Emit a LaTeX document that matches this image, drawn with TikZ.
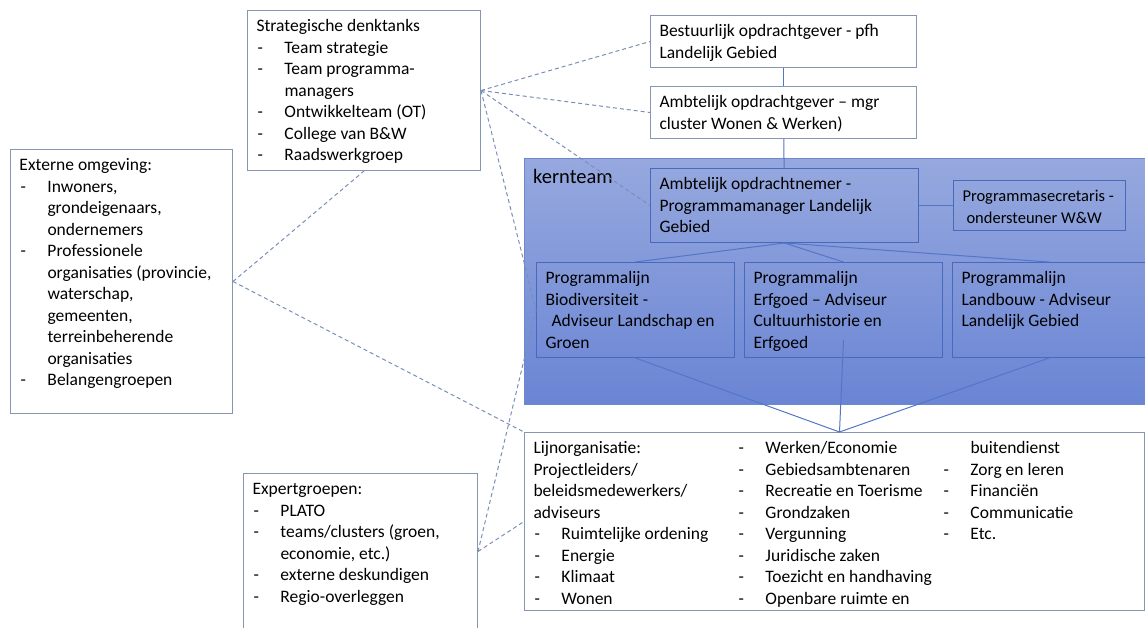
\documentclass[tikz,border=0pt]{standalone}
\usepackage{fontspec}
\setmainfont{Carlito}
\usetikzlibrary{positioning}

\definecolor{boxline}{RGB}{132,150,178}
\definecolor{coreline}{RGB}{72,106,190}
\definecolor{linkblue}{RGB}{84,118,200}
\definecolor{dashblue}{RGB}{122,142,184}
\definecolor{kerntop}{RGB}{150,168,222}
\definecolor{kernbottom}{RGB}{106,133,212}

\tikzstyle{plainbox}=[rectangle,draw=boxline,fill=white,line width=1pt,
anchor=north west,inner xsep=0pt,inner ysep=6pt]
\tikzstyle{linebox}=[rectangle,draw=coreline,line width=1pt,
anchor=north west,inner xsep=0pt,inner ysep=6pt]
\tikzstyle{kernframe}=[rectangle,draw=coreline!80,line width=1pt,anchor=north west,
top color=kerntop,bottom color=kernbottom,inner sep=0pt]
\tikzstyle{solidlink}=[draw=linkblue,line width=1pt]
\tikzstyle{dashlink}=[draw=dashblue,line width=1pt,dash pattern=on 4pt off 3pt]

\newcommand{\boxtext}[3]{\begin{minipage}[t][\dimexpr#2pt-12pt\relax][t]{#1pt}%
\raggedright\leftskip=9pt\relax\strut#3\end{minipage}}
\newcommand{\itm}[1]{\makebox[28pt][l]{\hspace{1pt}-}#1}
\newcommand{\cnt}[1]{\hspace*{28pt}#1}

\begin{document}
\begin{tikzpicture}[x=1pt,y=1pt,node distance=9pt,font=\fontsize{17.5}{21.5}\selectfont]
            \useasboundingbox (0,0) rectangle (1145,-627);

            % KERNTEAM PART

            \node[kernframe,minimum width=621pt,minimum height=246pt] (kern) at (524,-158) {};
            \node[anchor=base west,inner sep=0pt,font=\fontsize{20.5}{24}\selectfont] (kernlabel) at (533,-183) {kernteam};

            \node[linebox] (nemer) at (650,-168) {\boxtext{268}{74}{Ambtelijk opdrachtnemer -\\Programmamanager Landelijk\\Gebied}};
            \node[linebox,right=34pt of nemer,font=\fontsize{16.5}{21.5}\selectfont] (secr) {\boxtext{172}{50}{Programmasecretaris -\\\hspace*{4pt}ondersteuner W\&W}};

            \node[linebox] (bio) at (536,-262) {\boxtext{198}{95}{Programmalijn\\Biodiversiteit -\\\hspace*{6pt}Adviseur Landschap en\\Groen}};
            \node[linebox,right=of bio] (erf) {\boxtext{198}{95}{Programmalijn\\Erfgoed – Adviseur\\Cultuurhistorie en\\Erfgoed}};
            \node[linebox,right=of erf] (landb) {\boxtext{193}{95}{Programmalijn\\Landbouw - Adviseur\\Landelijk Gebied}};

            % OPDRACHTGEVERS PART

            \node[plainbox] (bestuur) at (650,-15) {\boxtext{266}{52}{Bestuurlijk opdrachtgever - pfh\\Landelijk Gebied}};
            \node[plainbox,below=18pt of bestuur] (ambt) {\boxtext{266}{52}{Ambtelijk opdrachtgever – mgr\\cluster Wonen \& Werken)}};

            % OMGEVING PART

            \node[plainbox] (strat) at (247,-10) {\boxtext{233}{160}{Strategische denktanks\\\itm{Team strategie}\\\itm{Team programma-}\\\cnt{managers}\\\itm{Ontwikkelteam (OT)}\\\itm{College van B\&W}\\\itm{Raadswerkgroep}}};
            \node[plainbox] (ext) at (10,-149) {\boxtext{222}{264}{Externe omgeving:\\\itm{Inwoners,}\\\cnt{grondeigenaars,}\\\cnt{ondernemers}\\\itm{Professionele}\\\cnt{organisaties (provincie,}\\\cnt{waterschap,}\\\cnt{gemeenten,}\\\cnt{terreinbeherende}\\\cnt{organisaties}\\\itm{Belangengroepen}}};
            \node[plainbox] (expert) at (243,-473) {\boxtext{234}{156}{Expertgroepen:\\\itm{PLATO}\\\itm{teams/clusters (groen,}\\\cnt{economie, etc.)}\\\itm{externe deskundigen}\\\itm{Regio-overleggen}}};

            % LIJN PART

            \node[plainbox] (lijn) at (524,-432) {\boxtext{620}{178}{%
            \begin{minipage}[t]{204pt}\strut Lijnorganisatie:\\Projectleiders/\\beleidsmedewerkers/\\adviseurs\\\itm{Ruimtelijke ordening}\\\itm{Energie}\\\itm{Klimaat}\\\itm{Wonen}\end{minipage}%
            \begin{minipage}[t]{205pt}\strut\itm{Werken/Economie}\\\itm{Gebiedsambtenaren}\\\itm{Recreatie en Toerisme}\\\itm{Grondzaken}\\\itm{Vergunning}\\\itm{Juridische zaken}\\\itm{Toezicht en handhaving}\\\itm{Openbare ruimte en}\end{minipage}%
            \begin{minipage}[t]{160pt}\strut\cnt{buitendienst}\\\itm{Zorg en leren}\\\itm{Financiën}\\\itm{Communicatie}\\\itm{Etc.}\end{minipage}}};

            % Lines of the programme

            \coordinate (hub) at ([xshift=5pt]lijn.north);
            \coordinate (erfin) at ([yshift=18pt]erf.south);

            \path[solidlink] (bestuur) edge (ambt);
            \path[solidlink] (ambt) edge (nemer);
            \path[solidlink] (nemer) edge (secr);
            \path[solidlink] (nemer.south) edge (bio.north);
            \path[solidlink] (nemer.south) edge (erf.north);
            \path[solidlink] (nemer.south) edge (landb.north);
            \path[solidlink] (hub) edge (bio.south);
            \path[solidlink] (hub) edge (erfin);
            \path[solidlink] (hub) edge (landb.south);

            % Dashed contacts

            \path[dashlink] (strat.east) edge (bestuur.west);
            \path[dashlink] (strat.east) edge (ambt.west);
            \path[dashlink] (strat.east) edge (nemer.west);
            \path[dashlink] (strat.east) edge (bio.west);
            \path[dashlink] (ext.east) edge (strat.south);
            \path[dashlink] (ext.east) edge (lijn.north west);
            \path[dashlink] (expert.east) edge (bio.west);
            \path[dashlink] (expert.east) edge (lijn.west);

        \end{tikzpicture}
\end{document}
